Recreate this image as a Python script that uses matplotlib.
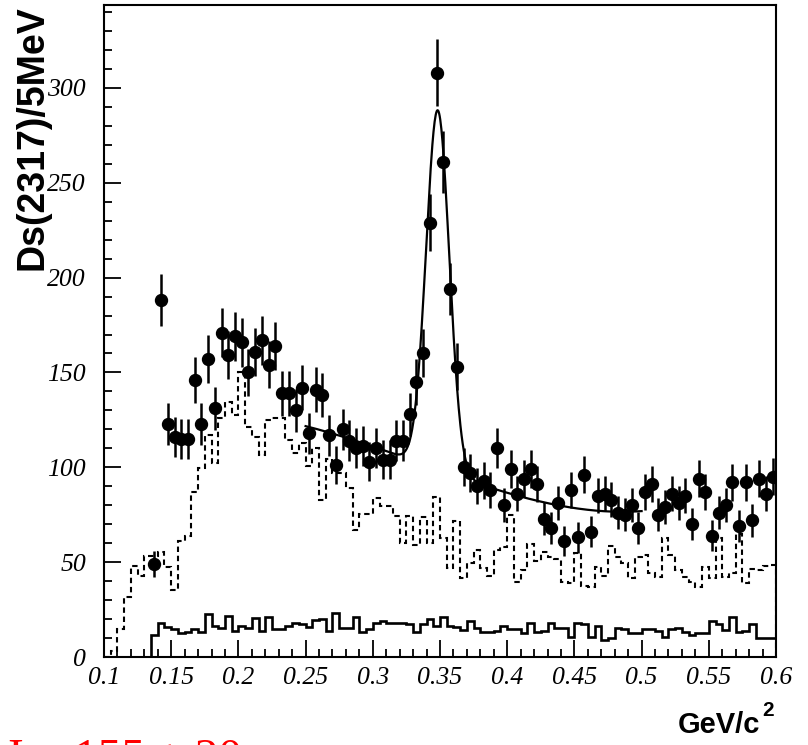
import numpy as np
import matplotlib.pyplot as plt
from matplotlib.ticker import MultipleLocator

# data points (5 MeV bins), first centre 0.1375
pt_start = 0.1375
counts = [49, 188, 123, 116, 115, 115, 146, 123, 157, 131,
          171, 159, 169, 166, 150, 161, 167, 154, 164, 139,
          139, 130, 142, 118, 141, 138, 117, 101, 120, 114,
          110, 111, 103, 110, 104, 104, 114, 114, 128, 145,
          160, 229, 308, 261, 194, 153, 100, 97, 90, 93,
          88, 110, 80, 99, 86, 94, 99, 91, 73, 68,
          81, 61, 88, 63, 96, 66, 85, 86, 83, 76,
          75, 80, 68, 87, 91, 75, 79, 86, 81, 85,
          70, 94, 87, 64, 76, 80, 92, 69, 92, 72,
          94, 86, 95]

# dashed histogram, edges from 0.10
dash_start = 0.10
dashed = [0, 3, 15, 31.5, 48, 42.5, 53, 53, 55.5, 47.6,
          35.3, 61, 63.8, 86.8, 99.5, 117, 102.4, 125.8, 134.6, 127.6,
          150.4, 121.4, 116.1, 106.5, 124.9, 126.2, 126.2, 114.6, 107.8, 112.6,
          100.7, 110, 82.6, 104.5, 96.8, 96.8, 88.9, 66.8, 75.2, 75.2,
          83.7, 79.4, 79.4, 74.4, 59.9, 74.4, 58.8, 74, 59.9, 84.5,
          62.6, 46.8, 71.9, 41.5, 49.7, 56.4, 46.8, 42.7, 56.4, 58,
          74.9, 39.7, 45.7, 59.7, 50.8, 55.5, 52.5, 51.5, 39.4, 38.8,
          54.7, 37.5, 37, 47.6, 42.7, 58.3, 52.9, 49.7, 41.8, 52.9,
          53.8, 44.2, 42.3, 62.6, 53.8, 45.7, 42.3, 39.5, 36.7, 47.6,
          41.5, 62.6, 42.3, 44.1, 64.8, 39.2, 46.3, 45.9, 48, 48.7]

# solid histogram, edges from 0.135
solid_start = 0.135
solid = [11.6, 17.8, 15.7, 14.6, 12.5, 13.4, 14.6, 13.4, 22.7, 16.3,
         15.1, 21.6, 13.9, 16.3, 15.1, 20.4, 13.9, 21.2, 14.6, 14.6,
         16.3, 18.1, 17.4, 15.7, 19.5, 20.2, 13.7, 23, 15.1, 15.1,
         21.2, 13.4, 14.6, 17.8, 19.1, 17.8, 17.8, 18.1, 17.4, 13.4,
         17.2, 19.9, 16.3, 21.2, 16.3, 16, 14.2, 19.1, 15.1, 13,
         13, 13.9, 16.5, 14.6, 14.6, 12.5, 18.1, 13.4, 13.9, 17.8,
         15.1, 15.1, 10.4, 17.8, 17.4, 10.4, 16.3, 9, 9.8, 15.1,
         14.6, 12.5, 12.5, 14.6, 14.6, 13.5, 10.8, 14.8, 15.3, 13,
         11.8, 12.5, 12.8, 19.1, 17.5, 14, 21, 13.4, 13.6, 17.5,
         9.8, 9.8, 9.8]

# fit curve: gaussian peak on a smooth background
peak_mean, peak_sigma, peak_amp = 0.3483, 0.0086, 189.5
bg_x = [0.2525, 0.2825, 0.31, 0.37, 0.39, 0.412, 0.44, 0.47, 0.50]
bg_y = [121.4, 114.8, 108.5, 93, 89.5, 84.2, 79.2, 77, 77]
fit_range = (0.25, 0.50)

xticks = [0.1, 0.15, 0.2, 0.25, 0.3, 0.35, 0.4, 0.45, 0.5, 0.55, 0.6]
xlabels = ['0.1', '0.15', '0.2', '0.25', '0.3', '0.35', '0.4', '0.45', '0.5', '0.55', '0.6']
yticks = [0, 50, 100, 150, 200, 250, 300]

bw = 0.005
fig = plt.figure(figsize=(8.08, 7.45), dpi=100)
ax = fig.add_axes([104 / 808, 88 / 745, 672 / 808, 652 / 745])

dash_edges = dash_start + bw * np.arange(len(dashed) + 1)
ax.stairs(dashed, dash_edges, baseline=0, color='black', lw=1.5,
          linestyle=(0, (2.6, 1.8)))
solid_edges = solid_start + bw * np.arange(len(solid) + 1)
ax.stairs(solid, solid_edges, baseline=0, color='black', lw=1.9)

xc = pt_start + bw * np.arange(len(counts))
yc = np.array(counts, dtype=float)
ax.errorbar(xc, yc, yerr=np.sqrt(yc), fmt='o', color='black', ms=8.6,
            elinewidth=1.8, capsize=0)

coef = np.polyfit(bg_x, bg_y, 3)
xf = np.linspace(fit_range[0], fit_range[1], 600)
yf = np.polyval(coef, xf) + peak_amp * np.exp(-0.5 * ((xf - peak_mean) / peak_sigma) ** 2)
ax.plot(xf, yf, color='black', lw=1.6)

ax.set_xlim(0.1, 0.6)
ax.set_ylim(0, 343.7)
ax.set_xticks(xticks)
ax.set_xticklabels(xlabels)
ax.set_yticks(yticks)
ax.xaxis.set_minor_locator(MultipleLocator(0.01))
ax.yaxis.set_minor_locator(MultipleLocator(10))
ax.tick_params(which='both', direction='in', top=False, right=False, width=1.3)
ax.tick_params(which='major', length=12)
ax.tick_params(which='minor', length=6)
ax.tick_params(axis='x', pad=7)
ax.tick_params(axis='y', pad=13)
for lab in ax.get_xticklabels() + ax.get_yticklabels():
    lab.set_family('Liberation Serif')
    lab.set_style('italic')
    lab.set_fontsize(18.5)
for sp in ax.spines.values():
    sp.set_linewidth(1.5)

fig.text(33 / 808, 1 - 5 / 745, 'Ds(2317)/5MeV', rotation=90, ha='center', va='top',
         family='Liberation Sans', weight='bold', fontsize=27)
fig.text(760 / 808, 1 - 733 / 745, 'GeV/c', ha='right', va='baseline',
         family='Liberation Sans', weight='bold', fontsize=21)
fig.text(762 / 808, 1 - 716 / 745, '2', ha='left', va='baseline',
         family='Liberation Sans', weight='bold', fontsize=15)
fig.text(8 / 808, -26 / 745, 'I = 155 ± 20', ha='left', va='baseline',
         family='Liberation Serif', fontsize=34, color='red')

plt.savefig('out.png', dpi=100)
